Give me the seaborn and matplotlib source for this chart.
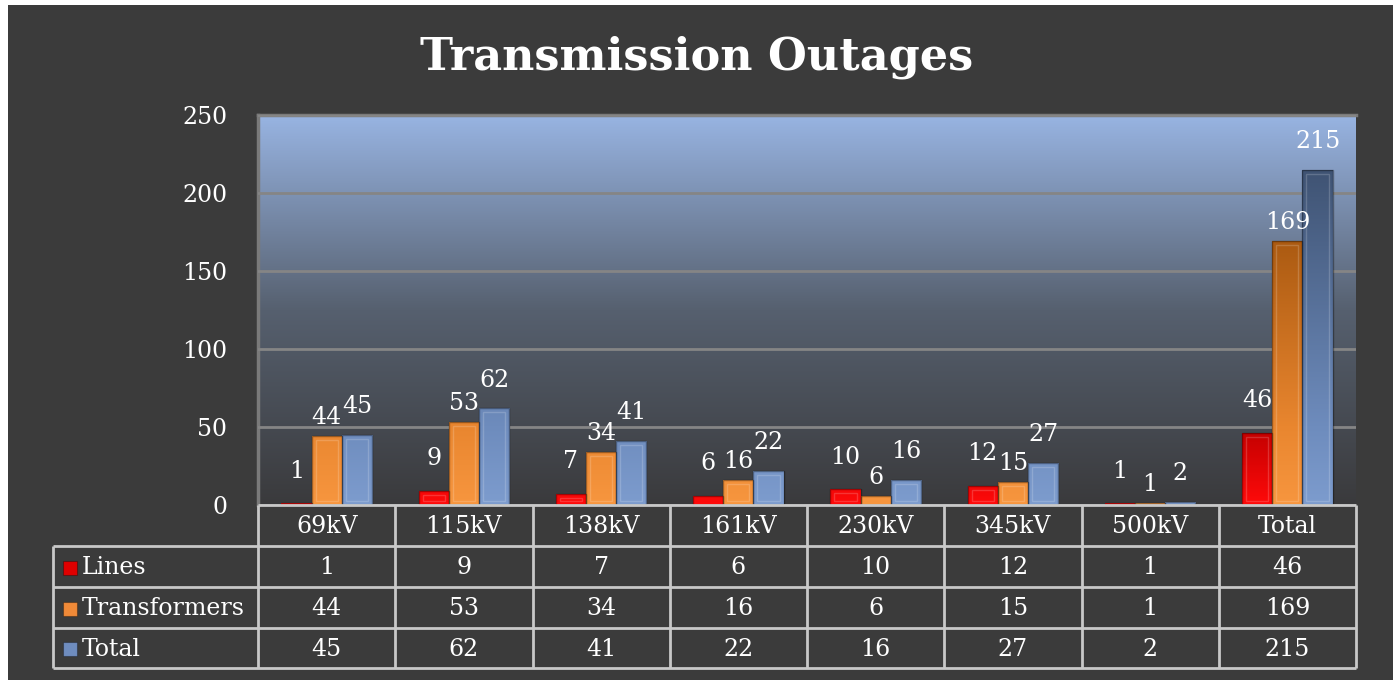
import numpy as np
import pandas as pd
import seaborn as sns
import matplotlib.pyplot as plt
from matplotlib.colors import LinearSegmentedColormap
from matplotlib.patches import Rectangle

# Data
categories = ["69kV", "115kV", "138kV", "161kV", "230kV", "345kV", "500kV", "Total"]
lines = [1, 9, 7, 6, 10, 12, 1, 46]
transformers = [44, 53, 34, 16, 6, 15, 1, 169]
totals = [45, 62, 41, 22, 16, 27, 2, 215]
series = ["Lines", "Transformers", "Total"]
y_ticks = [0, 50, 100, 150, 200, 250]

values = {"Lines": lines, "Transformers": transformers, "Total": totals}
df = pd.DataFrame({
    "category": categories * len(series),
    "series": [s for s in series for _ in categories],
    "value": lines + transformers + totals,
})

# Styling
sns.set_style("dark")
plt.rcParams["font.family"] = ["DejaVu Serif"]

W, H = 1393, 680
BG = "#3b3b3b"
GRID = "#858585"
TABLE = "#c8c8c8"
FS = 17
palette = {"Lines": "#e00000", "Transformers": "#f08a38", "Total": "#6f8dbf"}
bar_cmaps = {
    "Lines": LinearSegmentedColormap.from_list("r", [(0, "#ff0a0a"), (0.2, "#c00000"), (1, "#500000")]),
    "Transformers": LinearSegmentedColormap.from_list("o", [(0, "#f7963f"), (0.2, "#e9862f"), (0.7, "#a85810"), (1, "#7a3f08")]),
    "Total": LinearSegmentedColormap.from_list("b", [(0, "#7d9cce"), (0.2, "#6e8cbd"), (0.86, "#3f5373"), (1, "#36455c")]),
}
bg_cmap = LinearSegmentedColormap.from_list("bg", ["#3a3a3c", "#56606f", "#98b4e2"])

fig = plt.figure(figsize=(W / 100, H / 100), dpi=100, facecolor=BG)
# white margin strips on the left and top
fig.patches.append(Rectangle((0, 0), 8 / W, 1, transform=fig.transFigure,
                             facecolor="white", edgecolor="none"))
fig.patches.append(Rectangle((0, 1 - 5 / H), 1, 5 / H, transform=fig.transFigure,
                             facecolor="white", edgecolor="none"))

# plot area in pixels
x0, x1, y_top, y_bot = 258, 1356, 115, 505
ax = fig.add_axes([x0 / W, 1 - y_bot / H, (x1 - x0) / W, (y_bot - y_top) / H])

grad = np.linspace(0, 1, 256).reshape(-1, 1)
ax.imshow(grad, extent=(-0.5, len(categories) - 0.5, 0, 250), origin="lower",
          aspect="auto", cmap=bg_cmap, zorder=0)

sns.barplot(data=df, x="category", y="value", hue="series", hue_order=series,
            palette=palette, width=0.66, saturation=1, legend=False, ax=ax, zorder=3)

# gradient fill for each bar, clipped to the bar, plus a light bevel outline
px_x = len(categories) / (x1 - x0)
px_y = 250 / (y_bot - y_top)
for name, cont in zip(series, ax.containers):
    for p in cont:
        im = ax.imshow(grad, extent=(p.get_x(), p.get_x() + p.get_width(), 0, 250),
                       origin="lower", aspect="auto", cmap=bar_cmaps[name], zorder=3)
        im.set_clip_path(p)
        p.set_facecolor("none")
        p.set_edgecolor((0, 0, 0, 0.35))
        p.set_linewidth(1)
        p.set_zorder(4)
        if p.get_height() > 10 * px_y:
            ax.add_patch(Rectangle((p.get_x() + 4 * px_x, 4 * px_y),
                                   p.get_width() - 8 * px_x, p.get_height() - 8 * px_y,
                                   facecolor="none", edgecolor=(1, 1, 1, 0.18),
                                   linewidth=1, zorder=4))

pads = {"Lines": 15, "Transformers": 5, "Total": 12}
for name, cont in zip(series, ax.containers):
    ax.bar_label(cont, labels=[str(v) for v in values[name]], padding=pads[name],
                 color="white", fontsize=FS, zorder=5)

ax.set_xlim(-0.5, len(categories) - 0.5)
ax.set_ylim(0, 250)
ax.set_yticks(y_ticks)
ax.yaxis.grid(True, color=GRID, linewidth=2)
ax.xaxis.grid(False)
ax.set_axisbelow(False)
for gl in ax.get_ygridlines():
    gl.set_zorder(1)
ax.tick_params(axis="y", length=0, pad=22, labelcolor="white", labelsize=FS)
ax.tick_params(axis="x", bottom=False, labelbottom=False)
ax.set_xlabel("")
ax.set_ylabel("")
for side in ["right", "bottom"]:
    ax.spines[side].set_visible(False)
for side in ["left", "top"]:
    ax.spines[side].set_color("#7a7a7a")
    ax.spines[side].set_linewidth(2.5)

# Title
fig.text(0.5, 1 - 57 / H, "Transmission Outages", ha="center", va="center",
         color="white", fontsize=32, fontweight="bold")

# Data table drawn in pixel coordinates
tab = fig.add_axes([0, 0, 1, 1])
tab.set_xlim(0, W)
tab.set_ylim(H, 0)
tab.axis("off")

col_edges = np.linspace(x0, x1, len(categories) + 1)
col_mid = (col_edges[:-1] + col_edges[1:]) / 2
row_edges = [505, 546, 587, 628, 668]
label_left = 53

tab.hlines(row_edges[0], x0, x1, color=TABLE, lw=2)
tab.hlines(row_edges[1:], label_left, x1, color=TABLE, lw=2)
tab.vlines(col_edges, row_edges[0], row_edges[-1], color=TABLE, lw=2)
tab.vlines(label_left, row_edges[1], row_edges[-1], color=TABLE, lw=2)

for cx, cat in zip(col_mid, categories):
    tab.text(cx, (row_edges[0] + row_edges[1]) / 2 + 1, cat, ha="center", va="center",
             color="white", fontsize=FS)

for r, name in enumerate(series):
    yc = (row_edges[r + 1] + row_edges[r + 2]) / 2 + 1
    tab.add_patch(Rectangle((63, yc - 7), 14, 14, facecolor=palette[name],
                            edgecolor=(0, 0, 0, 0.3), lw=0.8))
    tab.text(82, yc, name, ha="left", va="center", color="white", fontsize=FS)
    for cx, v in zip(col_mid, values[name]):
        tab.text(cx, yc, str(v), ha="center", va="center", color="white", fontsize=FS)

fig.savefig("out.png", dpi=100, facecolor=fig.get_facecolor())
